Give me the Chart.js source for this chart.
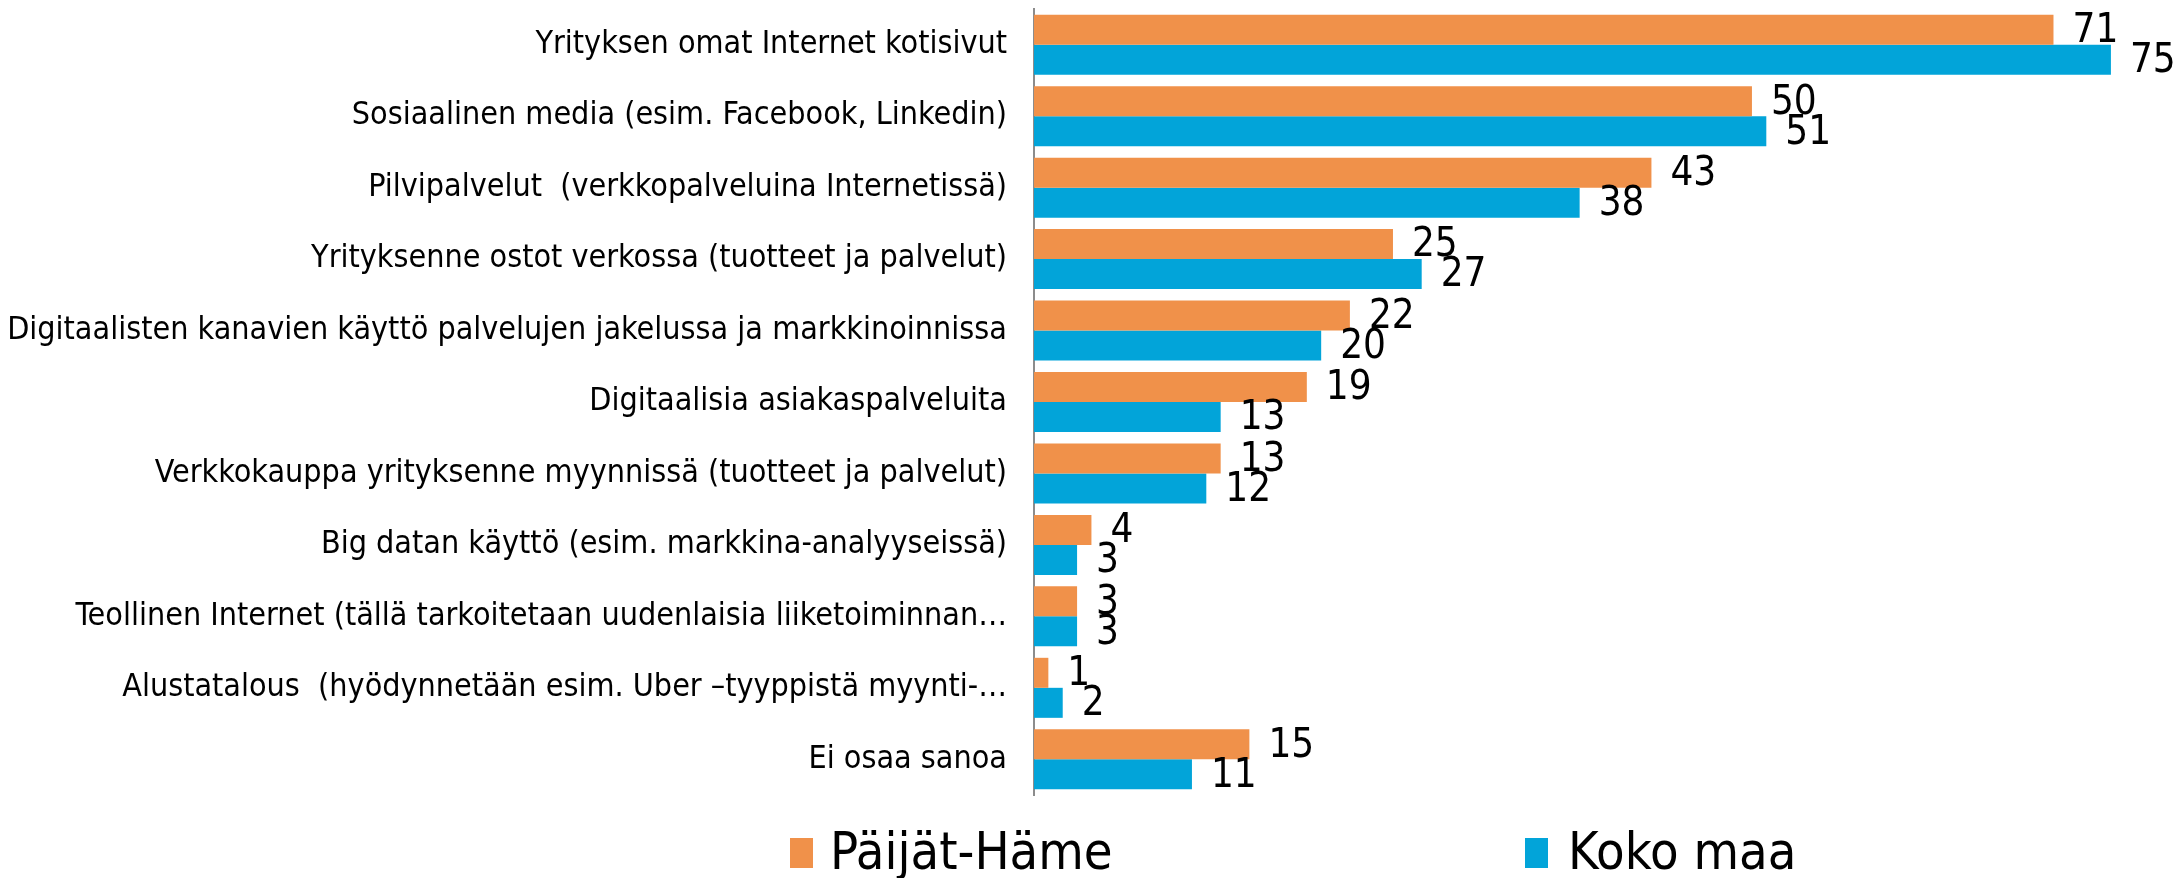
<!DOCTYPE html>
<html>
<head>
<meta charset="utf-8">
<script src="https://cdn.jsdelivr.net/npm/chart.js@4/dist/chart.umd.min.js"></script>
<style>
  html, body { margin: 0; padding: 0; background: #ffffff; }
  #wrap { width: 2177px; height: 878px; }
</style>
</head>
<body>
<div id="wrap"><canvas id="c" width="2177" height="878"></canvas></div>
<script>
const categories = [
  "Yrityksen omat Internet kotisivut",
  "Sosiaalinen media (esim. Facebook, Linkedin)",
  "Pilvipalvelut  (verkkopalveluina Internetissä)",
  "Yrityksenne ostot verkossa (tuotteet ja palvelut)",
  "Digitaalisten kanavien käyttö palvelujen jakelussa ja markkinoinnissa",
  "Digitaalisia asiakaspalveluita",
  "Verkkokauppa yrityksenne myynnissä (tuotteet ja palvelut)",
  "Big datan käyttö (esim. markkina-analyyseissä)",
  "Teollinen Internet (tällä tarkoitetaan uudenlaisia liiketoiminnan…",
  "Alustatalous  (hyödynnetään esim. Uber –tyyppistä myynti-…",
  "Ei osaa sanoa"
];
const paijatHame = [71, 50, 43, 25, 22, 19, 13, 4, 3, 1, 15];
const kokoMaa    = [75, 51, 38, 27, 20, 13, 12, 3, 3, 2, 11];
const seriesNames = ["Päijät-Häme", "Koko maa"];

const FONT = "'DejaVu Sans Condensed', 'DejaVu Sans', sans-serif";
const ORANGE = "#F0914A";
const BLUE = "#02A4D9";

const valueLabels = {
  id: 'valueLabels',
  afterDatasetsDraw(chart) {
    const ctx = chart.ctx;
    ctx.save();
    ctx.font = "40px " + FONT;
    ctx.fillStyle = "#000000";
    ctx.textAlign = "left";
    ctx.textBaseline = "middle";
    chart.data.datasets.forEach((ds, di) => {
      const meta = chart.getDatasetMeta(di);
      meta.data.forEach((bar, i) => {
        ctx.fillText(String(ds.data[i]), bar.x + 19, bar.y + 2);
      });
    });
    ctx.restore();
  }
};

const bottomLegend = {
  id: 'bottomLegend',
  afterDraw(chart) {
    const ctx = chart.ctx;
    const items = [
      { box: 790, text: 830 },
      { box: 1525, text: 1568 }
    ];
    ctx.save();
    ctx.font = "52px " + FONT;
    ctx.textAlign = "left";
    ctx.textBaseline = "alphabetic";
    chart.data.datasets.forEach((ds, i) => {
      const it = items[i];
      ctx.fillStyle = ds.backgroundColor;
      ctx.fillRect(it.box, 838, 23, 30);
      ctx.fillStyle = "#000000";
      ctx.fillText(ds.label, it.text, 869);
    });
    ctx.restore();
  }
};

new Chart(document.getElementById('c'), {
  type: 'bar',
  data: {
    labels: categories,
    datasets: [
      { label: seriesNames[0], data: paijatHame, backgroundColor: ORANGE, borderWidth: 0 },
      { label: seriesNames[1], data: kokoMaa, backgroundColor: BLUE, borderWidth: 0 }
    ]
  },
  options: {
    indexAxis: 'y',
    responsive: false,
    animation: false,
    devicePixelRatio: 1,
    layout: { padding: { left: 0, right: 23, top: 9, bottom: 83 } },
    datasets: { bar: { categoryPercentage: 0.84, barPercentage: 1.0 } },
    plugins: {
      legend: { display: false },
      tooltip: { enabled: false }
    },
    scales: {
      x: {
        display: false,
        min: 0,
        max: 78
      },
      y: {
        afterFit(scale) {
          scale.width = 1034;
          scale.paddingTop = 0;
          scale.paddingBottom = 0;
        },
        grid: { display: false, drawTicks: false },
        border: { display: true, color: '#8c8c8c', width: 2 },
        ticks: {
          autoSkip: false,
          padding: 27,
          color: '#000000',
          font: { family: FONT, size: 32 }
        }
      }
    }
  },
  plugins: [valueLabels, bottomLegend]
});
</script>
</body>
</html>
